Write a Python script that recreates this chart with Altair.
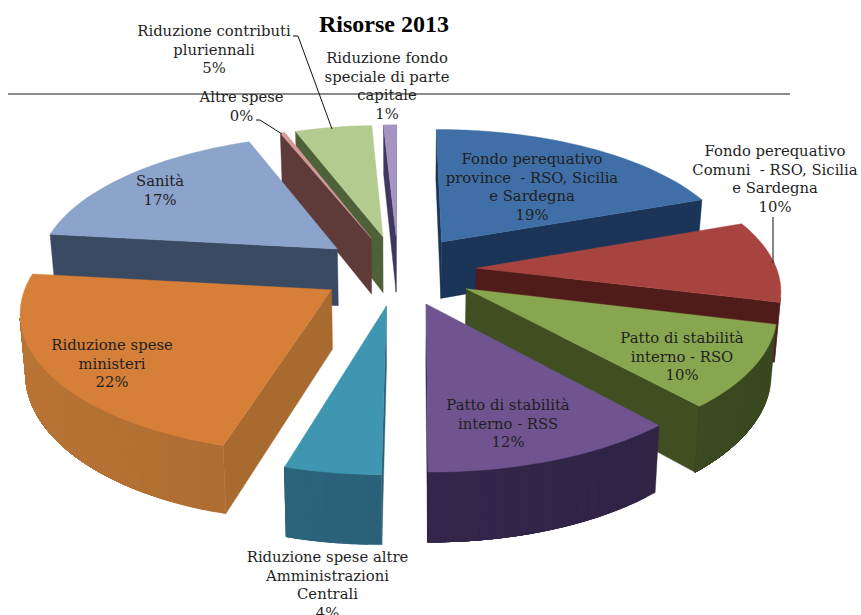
import math
import altair as alt
import pandas as pd

# Clockwise from twelve o'clock
categories = [
    "Fondo perequativo province - RSO, Sicilia e Sardegna",
    "Fondo perequativo Comuni - RSO, Sicilia e Sardegna",
    "Patto di stabilità interno - RSO",
    "Patto di stabilità interno - RSS",
    "Riduzione spese altre Amministrazioni Centrali",
    "Riduzione spese ministeri",
    "Sanità",
    "Altre spese",
    "Riduzione contributi pluriennali",
    "Riduzione fondo speciale di parte capitale",
]
shares = [19.4, 9.6, 9.6, 11.6, 4.35, 22.4, 17.3, 0.3, 4.8, 0.8]
top_colors = ["#3F6FA6", "#A8443F", "#88A64F", "#70548F", "#3F96B0",
              "#D67F38", "#8CA3CB", "#D49A9A", "#B4CB90", "#A495C2"]
wall_colors = ["#1A3557", "#4F1C1A", "#3F4F22", "#33264A", "#2A6178",
               "#A96A30", "#3A4A63", "#5E3A38", "#4E6138", "#3F3760"]
# Back slices are painted first so the nearer ones overlap them
paint_order = [9, 8, 7, 0, 6, 1, 5, 2, 4, 3]

label_lines = [
    ["Fondo perequativo", "province\u00a0 - RSO, Sicilia", "e Sardegna"],
    ["Fondo perequativo", "Comuni\u00a0 - RSO, Sicilia", "e Sardegna"],
    ["Patto di stabilità", "interno - RSO"],
    ["Patto di stabilità", "interno - RSS"],
    ["Riduzione spese altre", "Amministrazioni", "Centrali"],
    ["Riduzione spese", "ministeri"],
    ["Sanità"],
    ["Altre spese"],
    ["Riduzione contributi", "pluriennali"],
    ["Riduzione fondo", "speciale di parte", "capitale"],
]
label_x = [532, 775, 682, 508, 327.5, 112, 160, 241.5, 214, 387]
label_y = [164, 156, 343, 410, 562, 350, 186, 102, 36, 63]
LINE_STEP = 18.7

# Leader lines as (label id, x, y)
leaders = [
    (1, 773, 217), (1, 773, 263),
    (7, 256, 120), (7, 260, 120), (7, 282, 134),
    (8, 293, 36), (8, 298, 36), (8, 332, 129),
]

# Tilted-disc projection
CX, CY = 398, 270
RX, RY = 301, 135
PERSPECTIVE = 0.136
EXPLODE = 0.26
DEPTH = 58
DEPTH_SHRINK = 0.985


def project(x, y):
    f = 1 / (1 + PERSPECTIVE * y)
    return CX + RX * x * f, CY - RY * y * f, f


def lower(p):
    return CX + (p[0] - CX) * DEPTH_SHRINK, p[1] + DEPTH * p[2], p[2]


def shade(hex_color, k):
    rgb = [int(hex_color[i:i + 2], 16) for i in (1, 3, 5)]
    return "#" + "".join(f"{min(255, max(0, round(c * k))):02x}" for c in rgb)


def polygon(points, color, name):
    ring = [[round(p[0], 2), round(p[1], 2)] for p in points]
    ring.append(ring[0])
    return {
        "type": "Feature",
        "geometry": {"type": "Polygon", "coordinates": [ring]},
        "properties": {"fill": color, "name": name},
    }


def faces_viewer(p, q):
    quad = [p, q, lower(q), lower(p)]
    area = sum(quad[i][0] * quad[(i + 1) % 4][1] - quad[(i + 1) % 4][0] * quad[i][1]
               for i in range(4))
    return area < 0


total = sum(shares)
starts = [sum(shares[:i]) / total * 2 * math.pi for i in range(len(shares))]
ends = [sum(shares[:i + 1]) / total * 2 * math.pi for i in range(len(shares))]

features = []
for i in paint_order:
    a0, a1 = starts[i], ends[i]
    mid = (a0 + a1) / 2
    ox, oy = EXPLODE * math.sin(mid), EXPLODE * math.cos(mid)
    apex = project(ox, oy)
    steps = max(2, int((a1 - a0) / math.radians(2)))
    angles = [a0 + (a1 - a0) * k / steps for k in range(steps + 1)]
    rim = [project(ox + math.sin(a), oy + math.cos(a)) for a in angles]

    # Flat side walls along the two radii
    if faces_viewer(apex, rim[0]):
        features.append(polygon([apex, rim[0], lower(rim[0]), lower(apex)], wall_colors[i], categories[i]))
    if faces_viewer(rim[-1], apex):
        features.append(polygon([rim[-1], apex, lower(apex), lower(rim[-1])], wall_colors[i], categories[i]))

    # Outer wall: each band is painted over the remainder of the curve so no seams show
    visible = [k for k in range(steps) if faces_viewer(rim[k], rim[k + 1])]
    if visible:
        last = visible[-1] + 1
        for k in visible:
            light = 1 - 0.1 * math.sin((angles[k] + angles[k + 1]) / 2)
            band = rim[k:last + 1]
            outline = band + [lower(p) for p in reversed(band)]
            features.append(polygon(outline, shade(wall_colors[i], light), categories[i]))

    features.append(polygon([apex] + rim, top_colors[i], categories[i]))

pie = (
    alt.Chart(alt.Data(values=features))
    .mark_geoshape(strokeWidth=0.4)
    .encode(
        fill=alt.Fill("properties.fill:N", scale=None),
        stroke=alt.Stroke("properties.fill:N", scale=None),
    )
    .project(type="identity", scale=1, translate=[0, 0])
)

rows = []
for i, lines in enumerate(label_lines):
    pct = f"{round(shares[i])}%"
    for n, text in enumerate(lines + [pct]):
        rows.append({"text": text, "x": label_x[i], "y": label_y[i] + n * LINE_STEP})
labels_df = pd.DataFrame(rows)

x_scale = alt.Scale(domain=[0, 861], nice=False, zero=False)
y_scale = alt.Scale(domain=[615, 0], nice=False, zero=False)
x_enc = alt.X("x:Q", scale=x_scale, axis=None)
y_enc = alt.Y("y:Q", scale=y_scale, axis=None)

labels = (
    alt.Chart(labels_df)
    .mark_text(font="DejaVu Serif", fontSize=14.8, color="#1f1f1f", align="center", baseline="alphabetic")
    .encode(x=x_enc, y=y_enc, text="text:N")
)

leader_df = pd.DataFrame(leaders, columns=["id", "x", "y"]).reset_index()
leader_lines = (
    alt.Chart(leader_df)
    .mark_line(color="#111111", strokeWidth=1)
    .encode(x=x_enc, y=y_enc, detail="id:N", order="index:Q")
)

header_rule = (
    alt.Chart(pd.DataFrame({"x": [8, 790], "y": [94, 94]}))
    .mark_line(color="#666666", strokeWidth=1.3)
    .encode(x=x_enc, y=y_enc)
)

title = (
    alt.Chart(pd.DataFrame({"text": ["Risorse 2013"], "x": [384], "y": [32]}))
    .mark_text(font="Liberation Serif", fontSize=24, fontWeight="bold", color="#000000",
               align="center", baseline="alphabetic")
    .encode(x=x_enc, y=y_enc, text="text:N")
)

chart = (
    alt.layer(header_rule, pie, leader_lines, labels, title)
    .properties(width=861, height=615, padding=0, autosize=alt.AutoSizeParams(type="none"))
    .configure_view(stroke=None)
)

chart.save("out.html", embed_options={"renderer": "svg", "actions": False})
